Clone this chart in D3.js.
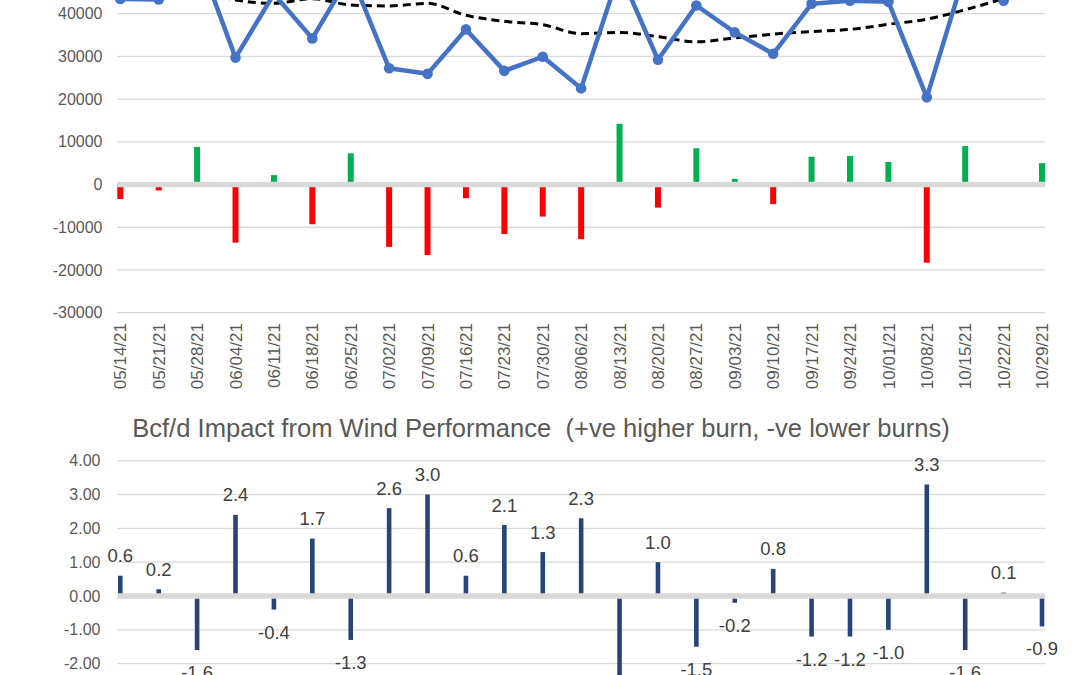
<!DOCTYPE html>
<html>
<head>
<meta charset="utf-8">
<script src="https://cdn.jsdelivr.net/npm/d3@7"></script>
<style>
  html, body { margin: 0; padding: 0; background: #fff; }
  svg { display: block; font-family: "Liberation Sans", Arial, sans-serif; }
</style>
</head>
<body>
<svg id="chart" width="1080" height="675"></svg>
<script>
// --- Data ---
const dates = ["05/14/21", "05/21/21", "05/28/21", "06/04/21", "06/11/21", "06/18/21", "06/25/21",
  "07/02/21", "07/09/21", "07/16/21", "07/23/21", "07/30/21", "08/06/21", "08/13/21", "08/20/21",
  "08/27/21", "09/03/21", "09/10/21", "09/17/21", "09/24/21", "10/01/21", "10/08/21", "10/15/21",
  "10/22/21", "10/29/21"];

// weekly wind generation (blue line)
const actual = [43400, 43300, 54000, 29700, 44600, 34200, 49300, 27200, 25900, 36300, 26600, 29900,
  22500, 49800, 29200, 41900, 35600, 30600, 42300, 43000, 42800, 20400, 49900, 43000, 51000];

// average (black dashed line)
const average = [46600, 44500, 45200, 43200, 42400, 43500, 42000, 41800, 42400, 39600, 38200, 37400,
  35300, 35600, 34600, 33400, 34300, 35200, 35800, 36300, 37500, 38700, 40900, 43500, 46000];

// difference from average (red / green bars)
const diff = [-3400, -1400, 8800, -13600, 2200, -9300, 7300, -14600, -16500, -3200, -11600, -7500,
  -12800, 14200, -5400, 8500, 1300, -4600, 6500, 6700, 5300, -18300, 9000, -500, 5000];

// Bcf/d impact (lower chart)
const impact = [0.6, 0.2, -1.6, 2.4, -0.4, 1.7, -1.3, 2.6, 3.0, 0.6, 2.1, 1.3, 2.3, -2.5, 1.0,
  -1.5, -0.2, 0.8, -1.2, -1.2, -1.0, 3.3, -1.6, 0.1, -0.9];

const topTicks = [-30000, -20000, -10000, 0, 10000, 20000, 30000, 40000, 50000];
const bottomTicks = [-3, -2, -1, 0, 1, 2, 3, 4];
const bottomTitle = "Bcf/d Impact from Wind Performance\u00a0 (+ve higher burn, -ve lower burns)";

// --- Setup ---
const svg = d3.select("#chart");
const gridColor = "#d9d9d9";
const textColor = "#595959";
const left = 117.3, right = 1045;

const x = d3.scalePoint().domain(dates).range([120.3, 1042]);
const yTop = d3.scaleLinear().domain([-30000, 40000]).range([312.7, 13.6]);
const yBot = d3.scaleLinear().domain([-2, 4]).range([663.6, 460.8]);

// ===== Top chart =====
const topG = svg.append("g");

topG.selectAll("line.grid")
  .data(topTicks.filter(d => d !== 0))
  .join("line")
  .attr("x1", left).attr("x2", right)
  .attr("y1", d => yTop(d)).attr("y2", d => yTop(d))
  .attr("stroke", gridColor).attr("stroke-width", 1.3);

topG.selectAll("rect.bar")
  .data(diff)
  .join("rect")
  .attr("x", (d, i) => x(dates[i]) - 3)
  .attr("width", 6)
  .attr("y", d => yTop(Math.max(0, d)))
  .attr("height", d => Math.abs(yTop(d) - yTop(0)))
  .attr("fill", d => d >= 0 ? "#00b050" : "#ff0000");

// zero axis band
topG.append("line")
  .attr("x1", left).attr("x2", right)
  .attr("y1", yTop(0)).attr("y2", yTop(0))
  .attr("stroke", gridColor).attr("stroke-width", 5.5);

topG.append("path")
  .datum(average)
  .attr("fill", "none")
  .attr("stroke", "#000")
  .attr("stroke-width", 3)
  .attr("stroke-dasharray", "8,5")
  .attr("d", d3.line().x((d, i) => x(dates[i])).y(d => yTop(d)).curve(d3.curveMonotoneX));

topG.append("path")
  .datum(actual)
  .attr("fill", "none")
  .attr("stroke", "#4472c4")
  .attr("stroke-width", 4.5)
  .attr("stroke-linejoin", "round")
  .attr("d", d3.line().x((d, i) => x(dates[i])).y(d => yTop(d)));

topG.selectAll("circle.pt")
  .data(actual)
  .join("circle")
  .attr("cx", (d, i) => x(dates[i]))
  .attr("cy", d => yTop(d))
  .attr("r", 5.3)
  .attr("fill", "#4472c4");

const yAxisTop = topG.append("g")
  .attr("transform", "translate(102.5,0)")
  .call(d3.axisLeft(yTop).tickValues(topTicks.filter(d => d <= 40000)).tickSize(0).tickPadding(0)
    .tickFormat(d => String(d)));
yAxisTop.select(".domain").remove();
yAxisTop.selectAll("text")
  .attr("fill", textColor)
  .style("font-size", "16px")
  .style("font-family", "'Liberation Sans', Arial, sans-serif");

// x labels (rotated)
topG.selectAll("text.xlab")
  .data(dates)
  .join("text")
  .attr("class", "xlab")
  .attr("transform", d => `translate(${x(d)},323) rotate(-90)`)
  .attr("text-anchor", "end")
  .attr("dy", "0.36em")
  .attr("fill", textColor)
  .style("font-size", "17px")
  .text(d => d);

// ===== Bottom chart =====
const botG = svg.append("g");

const title = botG.append("text")
  .attr("x", 541).attr("y", 436.5)
  .attr("text-anchor", "middle")
  .attr("fill", textColor)
  .style("font-size", "22px")
  .text(bottomTitle);
// fit the title to the width of the original
const tw = title.node().getComputedTextLength();
title.style("font-size", (22 * 818 / tw) + "px");

botG.selectAll("line.grid")
  .data(bottomTicks.filter(d => d !== 0))
  .join("line")
  .attr("x1", left).attr("x2", right)
  .attr("y1", d => yBot(d)).attr("y2", d => yBot(d))
  .attr("stroke", gridColor).attr("stroke-width", 1.3);

botG.selectAll("rect.bar")
  .data(impact)
  .join("rect")
  .attr("x", (d, i) => x(dates[i]) - 2.3)
  .attr("width", 4.6)
  .attr("y", d => yBot(Math.max(0, d)))
  .attr("height", d => Math.abs(yBot(d) - yBot(0)))
  .attr("fill", "#264478");

botG.append("line")
  .attr("x1", left).attr("x2", right)
  .attr("y1", yBot(0)).attr("y2", yBot(0))
  .attr("stroke", gridColor).attr("stroke-width", 5.5);

botG.selectAll("text.lab")
  .data(impact)
  .join("text")
  .attr("x", (d, i) => x(dates[i]))
  .attr("y", d => d >= 0 ? yBot(d) - 13.5 : yBot(d) + 29)
  .attr("text-anchor", "middle")
  .attr("fill", "#404040")
  .style("font-size", "18.5px")
  .text(d => d.toFixed(1));

const yAxisBot = botG.append("g")
  .attr("transform", "translate(100.5,0)")
  .call(d3.axisLeft(yBot).tickValues(bottomTicks.filter(d => d >= -2)).tickSize(0).tickPadding(0)
    .tickFormat(d => d.toFixed(2)));
yAxisBot.select(".domain").remove();
yAxisBot.selectAll("text")
  .attr("fill", textColor)
  .style("font-size", "16px")
  .style("font-family", "'Liberation Sans', Arial, sans-serif");
</script>
</body>
</html>
